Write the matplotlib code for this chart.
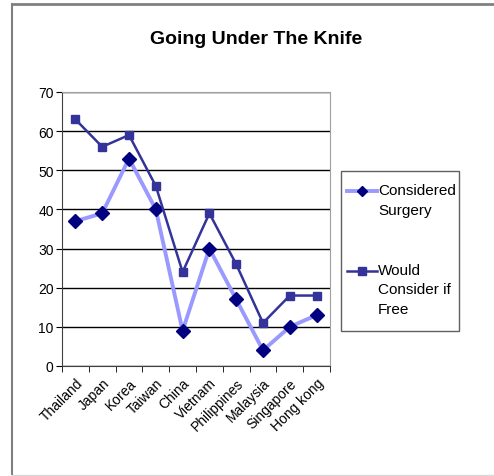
import matplotlib.pyplot as plt
from matplotlib.lines import Line2D
from matplotlib.patches import Rectangle
import numpy as np

countries = ['Thailand', 'Japan', 'Korea', 'Taiwan', 'China', 'Vietnam',
             'Philippines', 'Malaysia', 'Singapore', 'Hong kong']
considered = [37, 39, 53, 40, 9, 30, 17, 4, 10, 13]
would_if_free = [63, 56, 59, 46, 24, 39, 26, 11, 18, 18]
labels = ['Considered\nSurgery', 'Would\nConsider if\nFree']

plt.rcParams['font.family'] = ['Liberation Sans', 'DejaVu Sans']

W, H = 494, 477
fig = plt.figure(figsize=(W/100, H/100), dpi=100)
ax = fig.add_axes([62/W, 1 - 367/H, 268/W, 274/H])

styles = [dict(color='#9999ff', lw=2.8, marker='D', mfc='#000080', mec='#000080'),
          dict(color='#333399', lw=1.8, marker='s', mfc='#333399', mec='#333399')]

x = np.arange(len(countries))
ax.plot(x, considered, ms=7, zorder=3, **styles[0])
ax.plot(x, would_if_free, ms=6, zorder=3, **styles[1])

ax.set_xlim(-0.5, 9.5)
ax.set_ylim(0, 70)
ax.set_yticks(range(0, 71, 10))
ax.yaxis.grid(True, color='black', lw=1)
ax.set_axisbelow(True)

ax.set_xticks(x)
ax.set_xticklabels(countries, rotation=45, ha='right', rotation_mode='anchor', fontsize=10)
ax.set_xticks(np.arange(-0.5, 10, 1), minor=True)
ax.tick_params(axis='x', which='major', length=0, pad=7)
ax.tick_params(axis='x', which='minor', length=4, direction='out')
ax.tick_params(axis='y', labelsize=10, length=4, pad=2)

for s in ['top', 'right']:
    ax.spines[s].set_color('#a0a0a0')
for s in ['left', 'bottom']:
    ax.spines[s].set_color('#404040')

fig.suptitle('Going Under The Knife', x=256/W, y=1 - 31/H, fontsize=14, fontweight='bold')

# legend, laid out by hand (marker sits beside the first line of each label)
fig.add_artist(Rectangle((341/W, 1 - 332/H), 118/W, 160/H, transform=fig.transFigure,
                         fill=False, edgecolor='#606060', lw=1))
for lab, st, ym in zip(labels, styles, [192, 272]):
    fig.add_artist(Line2D([347/W, 377/W], [1 - ym/H] * 2, color=st['color'], lw=st['lw']))
    fig.add_artist(Line2D([362/W], [1 - ym/H], marker=st['marker'], ms=5.5,
                          mfc=st['mfc'], mec=st['mec'], ls='none'))
    fig.text(378/W, 1 - (ym - 8)/H, lab, fontsize=11, va='top', ha='left',
             linespacing=1.5)

# outer chart border
fig.add_artist(Line2D([12/W, 1], [1 - 5/H, 1 - 5/H], color='#808080', lw=2))
fig.add_artist(Line2D([12/W, 12/W], [1 - 5/H, 1 - 475/H], color='#808080', lw=1.5))
fig.add_artist(Line2D([12/W, 1], [1 - 476/H, 1 - 476/H], color='#d8d8d8', lw=1))

fig.savefig('out.png', dpi=100)
